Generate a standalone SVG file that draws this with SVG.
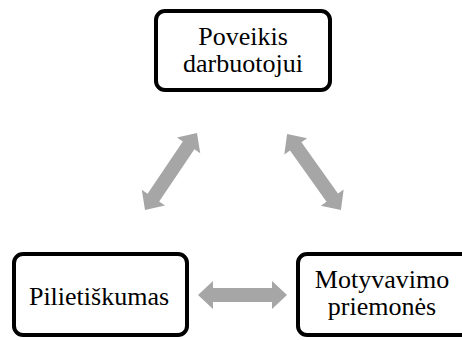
<svg xmlns="http://www.w3.org/2000/svg" width="462" height="340" viewBox="0 0 462 340">
<style>
.box{fill:#ffffff;stroke:#000000;stroke-width:4;}
.arr{fill:#A6A6A6;stroke:none;}
.lbl{font-family:"Liberation Serif","Times New Roman",serif;font-size:26px;fill:#000000;text-anchor:middle;}
</style>
<rect width="462" height="340" fill="#ffffff"/>
<g id="connectors">
<polygon class="arr" transform="translate(242.5,295)" points="-44.5,0 -29.5,-14 -29.5,-7 29.5,-7 29.5,-14 44.5,0 29.5,14 29.5,7 -29.5,7 -29.5,14"/>
<polygon class="arr" transform="translate(171,171.5) rotate(-56)" points="-46.5,0 -31.5,-14 -31.5,-7 31.5,-7 31.5,-14 46.5,0 31.5,14 31.5,7 -31.5,7 -31.5,14"/>
<polygon class="arr" transform="translate(314,172) rotate(54.6)" points="-46.5,0 -31.5,-14 -31.5,-7 31.5,-7 31.5,-14 46.5,0 31.5,14 31.5,7 -31.5,7 -31.5,14"/>
</g>
<g id="node-poveikis">
<rect class="box" x="156" y="11" width="174" height="79" rx="9"/>
<text class="lbl" x="243" y="45">Poveikis</text>
<text class="lbl" x="243" y="72">darbuotojui</text>
</g>
<g id="node-pilietiskumas">
<rect class="box" x="14" y="254" width="173" height="81" rx="9"/>
<text class="lbl" x="99" y="305">Pilietiškumas</text>
</g>
<g id="node-motyvavimo">
<rect class="box" x="298" y="254" width="173" height="81" rx="9"/>
<text class="lbl" x="382" y="288">Motyvavimo</text>
<text class="lbl" x="382" y="315">priemonės</text>
</g>
</svg>
